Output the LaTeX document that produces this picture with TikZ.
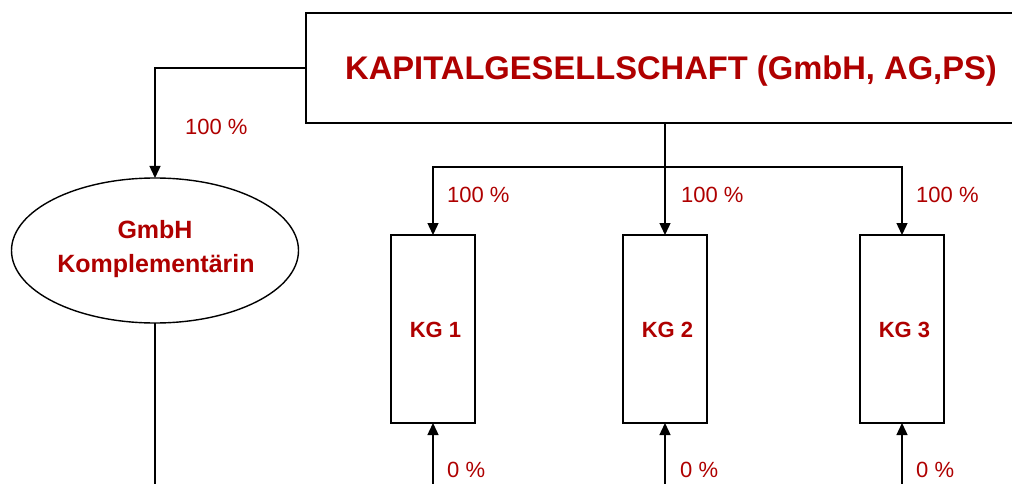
\documentclass[tikz,border=0pt]{standalone}
\usepackage{fontspec}
\setmainfont{Liberation Sans}
\usetikzlibrary{arrows.meta,shapes.geometric}
\definecolor{darkred}{RGB}{175,0,0}
\tikzset{
  x=1pt, y=-1pt,
  line/.style={line width=1.4pt, black},
  arrow/.style={line, -{Triangle[length=12pt,width=11pt]}},
  kgbox/.style={draw, line width=1.4pt, minimum width=84pt, minimum height=188pt,
    inner sep=0pt, outer sep=0pt, text=darkred,
    font=\bfseries\fontsize{22}{26}\selectfont, text height=16pt, text depth=0pt},
  pct/.style={anchor=base west, inner sep=0pt, text=darkred,
    font=\fontsize{22}{26}\selectfont},
  ovaltext/.style={anchor=base, inner sep=0pt, text=darkred,
    font=\bfseries\fontsize{25}{30}\selectfont},
}
\begin{document}
\begin{tikzpicture}
  \fill[white] (0,0) rectangle (1012,484);
  \useasboundingbox (0,0) rectangle (1012,484);
  \clip (0,0) rectangle (1012,484);

  % parent company
  \node[draw, line width=1.4pt, minimum width=718pt, minimum height=110pt,
        inner sep=0pt, outer sep=0pt] (kap) at (665,68) {};
  \node[anchor=base, inner sep=0pt, text=darkred,
        font=\bfseries\fontsize{32.7}{38}\selectfont] (kaptext) at (671,80)
        {KAPITALGESELLSCHAFT (GmbH, AG,PS)};

  % general partner
  \node[draw, ellipse, line width=1.4pt, minimum width=287pt, minimum height=145pt,
        inner sep=0pt, outer sep=0pt] (gmbh) at (155,250.5) {};
  \node[ovaltext] (gmbh1) at (155,238) {GmbH};
  \node[ovaltext] (gmbh2) at (156,272) {Komplementärin};

  % limited partnerships
  \node[kgbox] (kg1) at (433,329) {\hspace{5pt}KG 1};
  \node[kgbox] (kg2) at (665,329) {\hspace{5pt}KG 2};
  \node[kgbox] (kg3) at (902,329) {\hspace{5pt}KG 3};

  % ownership connectors
  \draw[arrow] (kap.west) -| (gmbh.north);
  \coordinate (bar) at (665,167);
  \draw[arrow] (kap.south) -- (kg2.north);
  \draw[arrow] (bar) -| (kg1.north);
  \draw[arrow] (bar) -| (kg3.north);

  \coordinate (gfoot) at (155,490);
  \draw[line] (gmbh.south) -- (gfoot);

  \coordinate (f1) at (433,490);
  \coordinate (f2) at (665,490);
  \coordinate (f3) at (902,490);
  \draw[arrow] (f1) -- (kg1.south);
  \draw[arrow] (f2) -- (kg2.south);
  \draw[arrow] (f3) -- (kg3.south);

  % shares
  \node[pct] (p0) at (185,135) {100 \%};
  \node[pct] (p1) at (447,202) {100 \%};
  \node[pct] (p2) at (681,202) {100 \%};
  \node[pct] (p3) at (916,202) {100 \%};
  \node[pct] (q1) at (447,477) {0 \%};
  \node[pct] (q2) at (680,477) {0 \%};
  \node[pct] (q3) at (916,477) {0 \%};
\end{tikzpicture}
\end{document}
